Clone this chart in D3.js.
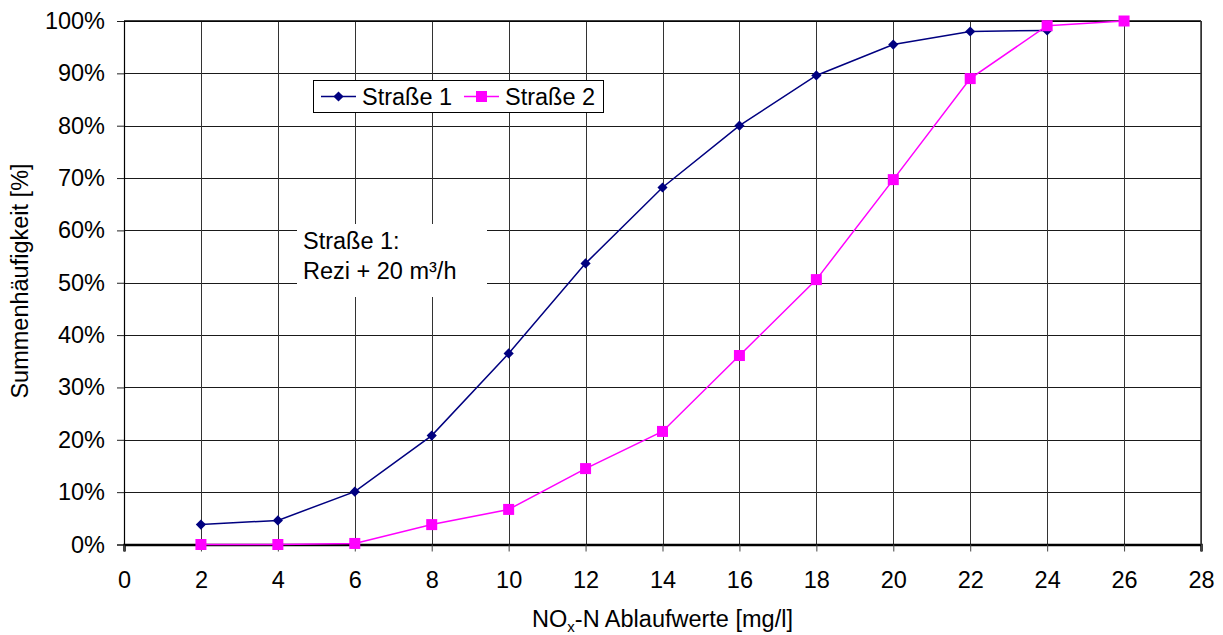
<!DOCTYPE html>
<html>
<head>
<meta charset="utf-8">
<script src="https://cdn.jsdelivr.net/npm/d3@7"></script>
<style>
  html, body { margin: 0; padding: 0; background: #fff; }
  svg { display: block; font-family: "Liberation Sans", Arial, sans-serif; }
</style>
</head>
<body>
<svg id="chart" width="1223" height="635"></svg>
<script>
// NOx-N effluent values [mg/l] (x positions of the measurement classes)
const xValues = [2, 4, 6, 8, 10, 12, 14, 16, 18, 20, 22, 24, 26];
// cumulative frequency [%] per line
const strasse1 = [3.8, 4.6, 10.1, 20.8, 36.5, 53.7, 68.2, 80.0, 89.6, 95.5, 98.0, 98.2];
const strasse2 = [0, 0, 0.2, 3.8, 6.7, 14.5, 21.6, 36.1, 50.6, 69.7, 89.0, 99.1, 100];
const seriesNames = ["Straße 1", "Straße 2"];
const xTicks = [0, 2, 4, 6, 8, 10, 12, 14, 16, 18, 20, 22, 24, 26, 28];
const yTicks = [0, 10, 20, 30, 40, 50, 60, 70, 80, 90, 100];
const noteLines = ["Straße 1:", "Rezi + 20 m³/h"];

const svg = d3.select("#chart");
const pL = 124, pR = 1201, pT = 21, pB = 544.5;
const x = d3.scaleLinear().domain([0, 28]).range([pL, pR]);
const y = d3.scaleLinear().domain([0, 100]).range([pB, pT]);
const fontSize = 23.5;
const fontFamily = "Liberation Sans, Arial, sans-serif";

// grid
const grid = svg.append("g").attr("shape-rendering", "crispEdges");
grid.selectAll("line.h").data(yTicks.slice(1)).join("line")
  .attr("x1", pL).attr("x2", pR)
  .attr("y1", d => Math.round(y(d)) + 0.5).attr("y2", d => Math.round(y(d)) + 0.5)
  .attr("stroke", "#1a1a1a").attr("stroke-width", 1);
grid.selectAll("line.v").data(xTicks.slice(1)).join("line")
  .attr("y1", pT).attr("y2", pB)
  .attr("x1", d => Math.round(x(d)) + 0.5).attr("x2", d => Math.round(x(d)) + 0.5)
  .attr("stroke", "#333").attr("stroke-width", 1);

// note box (white, covers grid)
const note = svg.append("g");
note.append("rect").attr("x", 297).attr("y", 224).attr("width", 190).attr("height", 73).attr("fill", "#fff");
note.selectAll("text").data(noteLines).join("text")
  .attr("x", 303).attr("y", (d, i) => 249 + i * 30)
  .attr("font-size", fontSize).attr("fill", "#000").text(d => d);

// axes
const xAxis = d3.axisBottom(x).tickValues(xTicks).tickSize(7).tickPadding(20).tickFormat(d3.format("d"));
const gx = svg.append("g").attr("transform", `translate(0,${pB})`).call(xAxis);
gx.select(".domain").attr("stroke", "#000").attr("stroke-width", 2.5);
gx.selectAll(".tick line").attr("stroke", "#444");
gx.selectAll("text").attr("font-size", fontSize).attr("fill", "#000").attr("font-family", fontFamily);

const yAxis = d3.axisLeft(y).tickValues(yTicks).tickSize(7).tickPadding(12).tickFormat(d => d + "%");
const gy = svg.append("g").attr("transform", `translate(${pL},0)`).call(yAxis);
gy.select(".domain").attr("stroke", "#000").attr("stroke-width", 1.2);
gy.selectAll(".tick line").attr("stroke", "#222");
gy.selectAll("text").attr("font-size", fontSize).attr("fill", "#000").attr("font-family", fontFamily);

// top & right frame
svg.append("line").attr("x1", pL).attr("x2", pR).attr("y1", pT).attr("y2", pT)
  .attr("stroke", "#000").attr("stroke-width", 1.5);
svg.append("line").attr("x1", pR).attr("x2", pR).attr("y1", pT).attr("y2", pB)
  .attr("stroke", "#333").attr("stroke-width", 1.5);

// series
const colors = ["#000080", "#FF00FF"];
const line = d3.line().x(d => x(d[0])).y(d => y(d[1]));
const s1 = strasse1.map((v, i) => [xValues[i], v]);
const s2 = strasse2.map((v, i) => [xValues[i], v]);

svg.append("path").datum(s1).attr("d", line).attr("fill", "none").attr("stroke", colors[0]).attr("stroke-width", 1.5);
const diamond = d3.symbol().type(d3.symbolDiamond2).size(66);
svg.selectAll("path.m1").data(s1).join("path").attr("class", "m1")
  .attr("d", diamond).attr("transform", d => `translate(${x(d[0])},${y(d[1])})`)
  .attr("fill", colors[0]);

svg.append("path").datum(s2).attr("d", line).attr("fill", "none").attr("stroke", colors[1]).attr("stroke-width", 1.5);
svg.selectAll("rect.m2").data(s2).join("rect").attr("class", "m2")
  .attr("x", d => x(d[0]) - 5.5).attr("y", d => y(d[1]) - 5.5)
  .attr("width", 11).attr("height", 11).attr("fill", colors[1]);

// legend
const lg = svg.append("g");
lg.append("rect").attr("x", 313.5).attr("y", 80.5).attr("width", 290).attr("height", 32)
  .attr("fill", "#fff").attr("stroke", "#000").attr("stroke-width", 1);
const items = [{x0: 321, name: seriesNames[0], c: colors[0], m: "d"}, {x0: 464, name: seriesNames[1], c: colors[1], m: "s"}];
items.forEach(it => {
  lg.append("line").attr("x1", it.x0).attr("x2", it.x0 + 35).attr("y1", 96.5).attr("y2", 96.5)
    .attr("stroke", it.c).attr("stroke-width", 1.5);
  if (it.m === "d") {
    lg.append("path").attr("d", diamond).attr("transform", `translate(${it.x0 + 17.5},96.5)`).attr("fill", it.c);
  } else {
    lg.append("rect").attr("x", it.x0 + 12).attr("y", 91).attr("width", 11).attr("height", 11).attr("fill", it.c);
  }
  lg.append("text").attr("x", it.x0 + 41).attr("y", 105).attr("font-size", fontSize).text(it.name);
});

// axis titles
const xt = svg.append("text").attr("x", (pL + pR) / 2).attr("y", 627)
  .attr("text-anchor", "middle").attr("font-size", fontSize);
xt.append("tspan").text("NO");
xt.append("tspan").attr("font-size", 15).attr("dy", 5).text("x");
xt.append("tspan").attr("dy", -5).text("-N Ablaufwerte [mg/l]");

svg.append("text").attr("transform", `translate(28,281) rotate(-90)`)
  .attr("text-anchor", "middle").attr("font-size", fontSize).text("Summenhäufigkeit [%]");
</script>
</body>
</html>
